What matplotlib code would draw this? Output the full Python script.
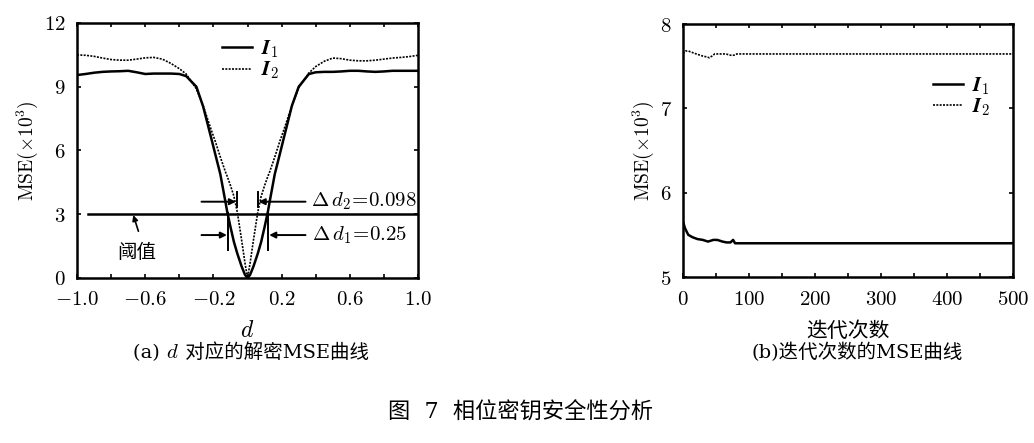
import matplotlib
matplotlib.use('Agg')
import matplotlib.pyplot as plt

plt.rcParams['font.family'] = ['DejaVu Serif', 'Noto Sans CJK SC']
plt.rcParams['mathtext.fontset'] = 'cm'
plt.rcParams['axes.formatter.use_mathtext'] = True
plt.rcParams['axes.unicode_minus'] = True

# (a) decrypted MSE vs d
d_vals = [-1.0, -0.95, -0.9, -0.85, -0.8, -0.75, -0.7, -0.65, -0.6, -0.55, -0.5, -0.45,
          -0.4, -0.36, -0.3, -0.26, -0.21, -0.19, -0.16, -0.13, -0.12, -0.1, -0.08, -0.06,
          -0.035, -0.015, 0.0, 0.015, 0.035, 0.06, 0.08, 0.1, 0.12, 0.13, 0.16, 0.19, 0.21,
          0.26, 0.3, 0.36, 0.4, 0.45, 0.5, 0.55, 0.6, 0.65, 0.7, 0.75, 0.8, 0.85, 0.9, 0.95, 1.0]
mse_i1 = [9.55, 9.6, 9.66, 9.7, 9.72, 9.73, 9.75, 9.68, 9.6, 9.62, 9.62, 9.62,
          9.6, 9.5, 9.0, 8.06, 6.49, 5.85, 4.9, 3.6, 3.15, 2.4, 1.7, 1.15,
          0.55, 0.15, 0.0, 0.15, 0.55, 1.15, 1.7, 2.4, 3.15, 3.6, 4.9, 5.85, 6.5,
          8.1, 9.0, 9.6, 9.68, 9.7, 9.7, 9.72, 9.75, 9.75, 9.72, 9.7, 9.72, 9.75, 9.75, 9.75, 9.75]
mse_i2 = [10.5, 10.48, 10.43, 10.35, 10.28, 10.25, 10.25, 10.3, 10.36, 10.38, 10.3, 10.1,
          9.85, 9.6, 8.9, 8.1, 6.9, 6.45, 5.7, 5.0, 4.8, 4.35, 3.85, 3.1,
          1.8, 0.7, 0.0, 0.7, 1.8, 3.1, 3.85, 4.35, 4.8, 5.0, 5.7, 6.45, 6.9,
          8.1, 8.95, 9.65, 9.95, 10.2, 10.35, 10.32, 10.25, 10.22, 10.22, 10.25, 10.3, 10.35, 10.38, 10.42, 10.48]
threshold = 3.0

# (b) MSE vs iterations
iter_i1 = [0, 3, 8, 15, 22, 30, 38, 42, 46, 52, 60, 66, 72, 76, 79, 85, 100, 200, 300, 400, 500]
mse_iter_i1 = [5.66, 5.58, 5.5, 5.47, 5.45, 5.44, 5.42, 5.43, 5.44, 5.44, 5.42, 5.41, 5.41, 5.44,
               5.40, 5.40, 5.40, 5.40, 5.40, 5.40, 5.40]
iter_i2 = [0, 4, 8, 15, 22, 30, 36, 40, 44, 48, 55, 65, 72, 77, 82, 100, 200, 300, 400, 500]
mse_iter_i2 = [7.65, 7.68, 7.68, 7.66, 7.64, 7.62, 7.61, 7.6, 7.62, 7.645, 7.645, 7.645, 7.63,
               7.63, 7.645, 7.645, 7.645, 7.645, 7.645, 7.645]

dotted = (0, (1.2, 0.8))
TICK_FS = 15
LAB_FS = 14

fig = plt.figure(figsize=(10.34, 4.43), dpi=100)
ax1 = fig.add_axes([0.0745, 0.3725, 0.3298, 0.5756])
ax2 = fig.add_axes([0.6605, 0.3747, 0.3191, 0.5711])

# ---- left panel
ax1.plot(d_vals, mse_i1, color='black', lw=1.8, label=r'$\mathbfit{I}_1$')
ax1.plot(d_vals, mse_i2, color='black', lw=1.2, ls=dotted, label=r'$\mathbfit{I}_2$')
ax1.plot([-0.934, 1.0], [threshold, threshold], color='black', lw=1.8)
ax1.set_xlim(-1.0, 1.0)
ax1.set_ylim(0, 12)
ax1.set_xticks([-1.0, -0.6, -0.2, 0.2, 0.6, 1.0])
ax1.set_xticks([-0.8, -0.4, 0.0, 0.4, 0.8], minor=True)
ax1.set_yticks([0, 3, 6, 9, 12])
ax1.set_xticklabels(['$-1.0$', '$-0.6$', '$-0.2$', '$0.2$', '$0.6$', '$1.0$'])
ax1.set_yticklabels(['$0$', '$3$', '$6$', '$9$', '$12$'])
ax1.set_xlabel('$d$', fontsize=LAB_FS + 3, labelpad=7)
ax1.set_ylabel(r'$\mathrm{MSE}(\times 10^3)$', fontsize=LAB_FS, labelpad=3)

# delta-d annotations
arr = dict(arrowstyle='-|>', color='black', lw=1.4, shrinkA=0, shrinkB=0, mutation_scale=9)
for x in (-0.063, 0.06):
    ax1.plot([x, x], [3.36, 4.06], color='black', lw=1.4)
for x in (-0.116, 0.122):
    ax1.plot([x, x], [1.32, 3.04], color='black', lw=1.4)
ax1.annotate('', xy=(-0.068, 3.59), xytext=(-0.27, 3.59), arrowprops=arr)
ax1.annotate('', xy=(0.065, 3.59), xytext=(0.34, 3.59), arrowprops=arr)
ax1.annotate('', xy=(-0.121, 2.02), xytext=(-0.27, 2.02), arrowprops=arr)
ax1.annotate('', xy=(0.127, 2.02), xytext=(0.34, 2.02), arrowprops=arr)
ax1.text(0.375, 3.62, r'$\Delta\,d_2\!=\!0.098$', fontsize=15, va='center', ha='left')
ax1.text(0.38, 2.02, r'$\Delta\,d_1\!=\!0.25$', fontsize=15, va='center', ha='left')
ax1.annotate('', xy=(-0.67, 2.96), xytext=(-0.64, 2.2),
             arrowprops=dict(arrowstyle='-|>', color='black', lw=1.2, shrinkA=0, shrinkB=0,
                             mutation_scale=8))
ax1.text(-0.65, 1.16, '阈值', fontsize=14, ha='center', va='center')
ax1.legend(loc='upper left', bbox_to_anchor=(0.425, 0.94), frameon=False, fontsize=15,
           handlelength=1.45, handletextpad=0.4, borderpad=0, borderaxespad=0,
           labelspacing=0.0)

# ---- right panel
ax2.plot(iter_i1, mse_iter_i1, color='black', lw=1.8, label=r'$\mathbfit{I}_1$')
ax2.plot(iter_i2, mse_iter_i2, color='black', lw=1.2, ls=dotted, label=r'$\mathbfit{I}_2$')
ax2.set_xlim(0, 500)
ax2.set_ylim(5, 8)
ax2.set_xticks([0, 100, 200, 300, 400, 500])
ax2.set_xticks([50, 150, 250, 350, 450], minor=True)
ax2.set_yticks([5, 6, 7, 8])
ax2.set_xticklabels(['$0$', '$100$', '$200$', '$300$', '$400$', '$500$'])
ax2.set_yticklabels(['$5$', '$6$', '$7$', '$8$'])
ax2.set_xlabel('迭代次数', fontsize=15, labelpad=9)
ax2.set_ylabel(r'$\mathrm{MSE}(\times 10^3)$', fontsize=LAB_FS, labelpad=3)
ax2.legend(loc='upper left', bbox_to_anchor=(0.758, 0.798), frameon=False, fontsize=15,
           handlelength=1.45, handletextpad=0.4, borderpad=0, borderaxespad=0,
           labelspacing=0.0)

for ax in (ax1, ax2):
    for s in ax.spines.values():
        s.set_linewidth(1.8)
    ax.tick_params(which='both', direction='in', top=True, right=True, labelsize=TICK_FS)
    ax.tick_params(which='both', length=3, width=1.2)
    ax.tick_params(axis='x', which='major', pad=9)
    ax.tick_params(axis='y', which='major', pad=8)

# sub-captions: (a) is pieced together so that d is italic and the Chinese has glyphs
cap_y = 0.192
ta = fig.text(0.1286, cap_y, '(a) ', ha='left', va='baseline', fontsize=14)
td = fig.text(0, cap_y, '$d$', ha='left', va='baseline', fontsize=15)
tr = fig.text(0, cap_y, ' 对应的解密MSE曲线', ha='left', va='baseline', fontsize=14)
fig.canvas.draw()
r = fig.canvas.get_renderer()
w = fig.bbox.width
x_next = ta.get_window_extent(r).x1 / w
td.set_x(x_next)
x_next = td.get_window_extent(r).x1 / w
tr.set_x(x_next)

fig.text(0.829, cap_y, '(b)迭代次数的MSE曲线', ha='center', va='baseline', fontsize=14)
fig.text(0.503, 0.055, '图  7  相位密钥安全性分析', ha='center', va='baseline', fontsize=16)

fig.savefig('out.png', dpi=100)
